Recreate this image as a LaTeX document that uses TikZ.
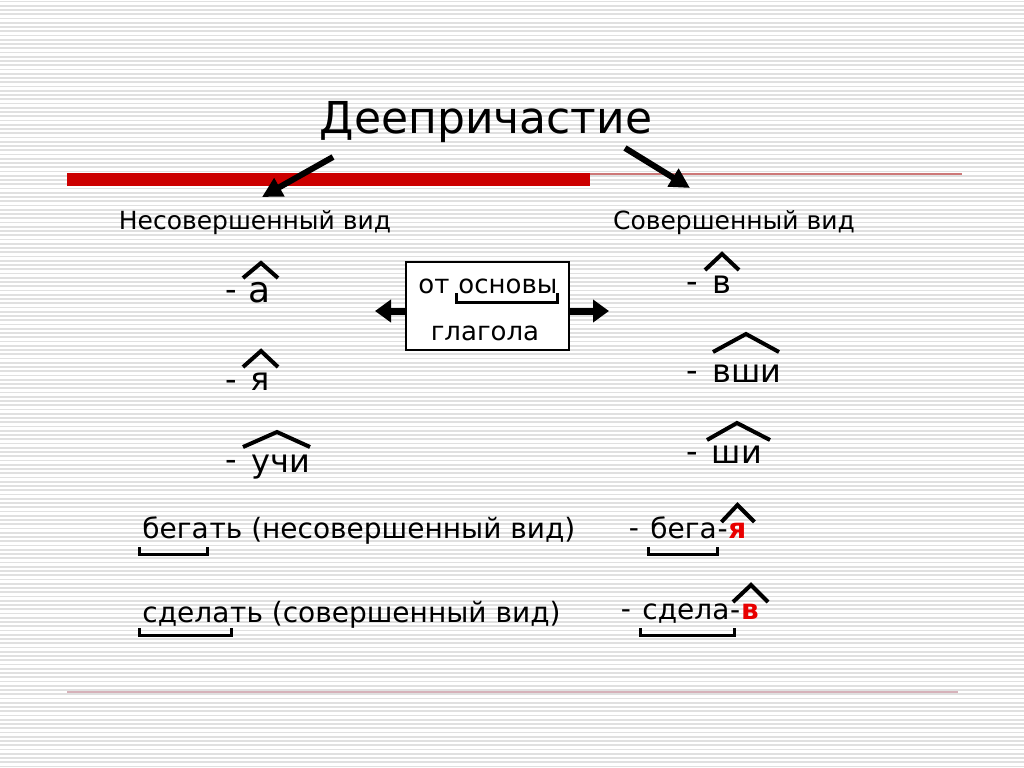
\documentclass[tikz,border=0pt]{standalone}
\usepackage{fontspec}
\setmainfont{DejaVu Sans}
\usetikzlibrary{arrows.meta,positioning}
\definecolor{stripegray}{RGB}{224,224,224}
\definecolor{barred}{RGB}{204,0,0}
\definecolor{thinred}{RGB}{205,120,120}
\definecolor{footpink}{RGB}{214,178,186}
\definecolor{sufred}{RGB}{232,0,0}

\begin{document}
\begin{tikzpicture}[x=0.5pt, y=-0.5pt,
  stripe/.style={stripegray, line width=0.9pt},
  title/.style={inner sep=0pt, font=\fontsize{22}{26}\selectfont},
  head/.style={inner sep=0pt, font=\fontsize{12.5}{15}\selectfont},
  suf/.style={inner sep=0pt, font=\fontsize{16}{19}\selectfont},
  word/.style={inner sep=0pt, font=\fontsize{14}{17}\selectfont},
  hot/.style={inner sep=0pt, text=sufred, font=\fontsize{14}{17}\selectfont\bfseries},
  boxtxt/.style={inner sep=0pt, font=\fontsize{13}{16}\selectfont},
  stembox/.style={draw, line width=0.6pt, fill=white, inner sep=0pt,
    minimum width=81.5pt, minimum height=44pt},
  fat/.style={line width=3pt, -{Triangle[length=10pt,width=10pt]}},
  side/.style={line width=3.5pt, -{Triangle[length=8pt,width=11pt]}},
  roof/.style={line width=2pt},
  brk/.style={line width=1.5pt}
]
\useasboundingbox (0,0) rectangle (1024,767);
\fill[white] (0,0) rectangle (1024,767);
\foreach \i in {0,...,180}
  \draw[stripe] (0,{\i*4.25+1.5}) -- (1024,{\i*4.25+1.5});
\fill[barred] (67,173) rectangle (590,186);
\draw[thinred, line width=0.8pt] (590,174) -- (962,174);
\draw[footpink, line width=1.3pt] (67,692) -- (958,692);

\node[title, anchor=base] (title) at (486,133) {Деепричастие};
\node[head, anchor=base] (nesov) at (255,229) {Несовершенный вид};
\node[head, anchor=base] (sov) at (734,229) {Совершенный вид};
\coordinate (tl) at (333,157);
\coordinate (tlend) at (262,197);
\coordinate (tr) at (625,148);
\coordinate (trend) at (690,188);
\draw[fat] (tl) -- (tlend);
\draw[fat] (tr) -- (trend);

\node[suf, anchor=base] (d1) at (231,300) {-};
\node[suf, anchor=base, font=\fontsize{18}{21}\selectfont] (sa) at (260,302) {а};
\node[suf, anchor=base] (d2) at (231,390) {-};
\node[suf, anchor=base] (sya) at (260,390) {я};
\node[suf, anchor=base] (d3) at (231,470) {-};
\node[suf, anchor=base] (suchi) at (281,472) {учи};
\draw[roof] (243,278) -- (261,263) -- (278,278);
\draw[roof] (243,367) -- (261,351) -- (278,367);
\draw[roof] (243,447) -- (277,432) -- (310,447);

\node[suf, anchor=base] (d4) at (692,292) {-};
\node[suf, anchor=base] (sv) at (722,293) {в};
\node[suf, anchor=base] (d5) at (692,381) {-};
\node[suf, anchor=base] (svshi) at (747,382) {вши};
\node[suf, anchor=base] (d6) at (692,462) {-};
\node[suf, anchor=base] (sshi) at (737,463) {ши};
\draw[roof] (705,270) -- (722,254) -- (739,270);
\draw[roof] (713,352) -- (746,334) -- (779,352);
\draw[roof] (707,440) -- (737,423) -- (770,440);

\node[stembox] (box) at (487.5,306) {};
\node[boxtxt, anchor=base west] (ot) at (418,293) {от};
\node[boxtxt, right=4.1pt of ot.base east, anchor=base west] (osn) {основы};
\node[boxtxt, anchor=base] (glag) at (485,340) {глагола};
\draw[brk] ([shift={(-2,0)}]osn.base west) -- ++(0,9) -| ([shift={(0,0)}]osn.base east);
\coordinate (stemL) at (375,311);
\coordinate (stemR) at (609,311);
\draw[side] ([shift={(0,5)}]box.west) -- (stemL);
\draw[side] ([shift={(0,5)}]box.east) -- (stemR);

\node[word, anchor=base west] (beg) at (142,538) {бега};
\node[word, anchor=base west] (begrest) at (beg.base east) {ть (несовершенный вид)};
\node[word, anchor=base west] (sdel) at (142,622) {сдела};
\node[word, anchor=base west] (sdelrest) at (sdel.base east) {ть (совершенный вид)};
\draw[brk] ([shift={(-3,9)}]beg.base west) -- ++(0,7) -| ([shift={(-2,9)}]beg.base east);
\draw[brk] ([shift={(-3,6)}]sdel.base west) -- ++(0,7) -| ([shift={(2,6)}]sdel.base east);

\node[word, anchor=base] (d7) at (634,537) {-};
\node[word, anchor=base west] (rbeg) at (650,538) {бега};
\node[word, anchor=base west] (rbeghy) at (rbeg.base east) {-};
\node[hot, anchor=base west] (rbegya) at (rbeghy.base east) {я};
\draw[brk] ([shift={(-2,9)}]rbeg.base west) -- ++(0,7) -| ([shift={(0,9)}]rbeg.base east);
\draw[roof] ([shift={(-16,-16)}]rbegya.base) -- ([shift={(0,-33)}]rbegya.base) -- ([shift={(17,-16)}]rbegya.base);

\node[word, anchor=base] (d8) at (626,618) {-};
\node[word, anchor=base west] (rsdel) at (642,619) {сдела};
\node[word, anchor=base west] (rsdelhy) at (rsdel.base east) {-};
\node[hot, anchor=base west] (rsdelv) at (rsdelhy.base east) {в};
\draw[brk] ([shift={(-2,9)}]rsdel.base west) -- ++(0,7) -| ([shift={(5,9)}]rsdel.base east);
\draw[roof] ([shift={(-17,-17)}]rsdelv.base) -- ([shift={(1,-34)}]rsdelv.base) -- ([shift={(18,-17)}]rsdelv.base);
\end{tikzpicture}
\end{document}
